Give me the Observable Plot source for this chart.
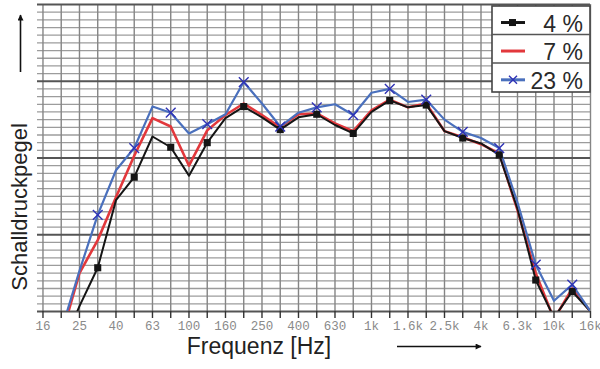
<!DOCTYPE html>
<html><head><meta charset="utf-8">
<script src="https://cdn.jsdelivr.net/npm/d3@7"></script>
<script src="https://cdn.jsdelivr.net/npm/@observablehq/plot@0.6"></script>
<style>
body{margin:0;background:#fff}
#chart{width:600px;height:369px}
</style>
</head><body><div id="chart"></div>
<script>
// Third-octave band centre frequencies (x categories)
const bandLabels = ["16","20","25","31.5","40","50","63","80","100","125","160","200","250","315","400","500","630","800","1k","1.25k","1.6k","2k","2.5k","3.15k","4k","5k","6.3k","8k","10k","12.5k","16k"];
// Tick labels shown on the axis (every second band)
const tickLabels = ["16","25","40","63","100","160","250","400","630","1k","1.6k","2.5k","4k","6.3k","10k","16k"];
// Legend / series names
const seriesNames = ["4 %", "7 %", "23 %"];
// Sound pressure level (relative units, one grid step = 1)
const level4  = [null, -5, 0.7, 5.7, 14.5, 17.5, 22.8, 21.4, 17.7, 22.0, 25.2, 26.7, 25.3, 23.7, 25.3, 25.7, 24.3, 23.2, 26.0, 27.5, 26.6, 26.9, 23.5, 22.6, 21.9, 20.4, 13.4, 4.1, -0.8, 2.6, 0];
const level7  = [null, -3.3, 5.0, 9.3, 14.9, 20.3, 25.2, 24.1, 19.0, 23.6, 25.6, 27.1, 25.6, 24.0, 25.7, 25.8, 24.5, 23.5, 26.2, 27.6, 26.6, 27.1, 23.5, 22.7, 21.8, 20.6, 13.2, 5.0, -1.0, 3.0, 0];
const level23 = [null, -2.5, 5.3, 12.6, 18.4, 21.3, 26.7, 25.9, 23.2, 24.4, 25.7, 29.9, 27.1, 24.1, 25.9, 26.6, 27.0, 25.6, 28.5, 29.0, 27.3, 27.6, 25.0, 23.4, 22.6, 21.3, 14.2, 6.1, 1.4, 3.5, 0];
// Axis titles
const xTitle = "Frequenz [Hz]";
const yTitle = "Schalldruckpegel";

const bandIdx = bandLabels.map((_, i) => i);
const labelIdx = bandIdx.filter(i => i % 2 === 0);
const rows = (vals, name) => vals.map((v, i) => ({band: i, value: v, series: name}));
const d4 = rows(level4, seriesNames[0]);
const d7 = rows(level7, seriesNames[1]);
const d23 = rows(level23, seriesNames[2]);
const markerRows = d => d.filter(r => r.band % 2 === 1 && r.value != null && r.value >= 0);

const yAll = d3.range(0, 41);
const yMajor = yAll.filter(v => v % 10 === 0);
const yMinor = yAll.filter(v => v % 10 !== 0);

const C4 = "#151515", C7 = "#e2383c", C23 = "#4a70bd";
const sans = "'Liberation Sans', Arial, sans-serif";

const plot = Plot.plot({
  width: 600, height: 369,
  marginTop: 4, marginBottom: 58, marginLeft: 37, marginRight: 10,
  x: {domain: [-0.3, 30], axis: null},
  y: {domain: [0, 40], axis: null},
  style: {background: "#fff", fontFamily: sans, overflow: "visible"},
  marks: [
    Plot.ruleY(yMinor, {stroke: "#9c9c9c", strokeWidth: 1.3}),
    Plot.ruleX(bandIdx, {stroke: "#858585", strokeWidth: 1.4}),
    Plot.ruleY(yMajor, {stroke: "#555", strokeWidth: 2}),
    Plot.axisX({ticks: bandIdx, tickSize: 7, text: null, stroke: "#333", strokeWidth: 1.4, label: null}),
    Plot.axisX({
      ticks: labelIdx, tickSize: 0, tickPadding: 10,
      tickFormat: i => tickLabels[i / 2],
      fill: "#8a8a8a",
      fontSize: 12.5, fontFamily: "'Liberation Mono', 'DejaVu Sans Mono', monospace",
      label: null
    }),
    Plot.line(d7, {x: "band", y: "value", stroke: C7, strokeWidth: 2.6, clip: true}),
    Plot.line(d4, {x: "band", y: "value", stroke: C4, strokeWidth: 2, clip: true}),
    Plot.line(d23, {x: "band", y: "value", stroke: C23, strokeWidth: 2.2, clip: true}),
    Plot.dot(markerRows(d4), {x: "band", y: "value", symbol: "square", r: 4, fill: C4}),
    Plot.dot(markerRows(d23), {x: "band", y: "value", symbol: "times", r: 4.5, stroke: "#2f32b5", strokeWidth: 1.4}),
    Plot.text([xTitle], {text: d => d, frameAnchor: "bottom", dx: -55, dy: 42, fontSize: 23, fill: "#222", fontFamily: sans})
  ]
});

document.getElementById("chart").appendChild(plot);

// Decorations: y title, arrows and legend
const svg = d3.select(plot);
svg.append("text").attr("transform", "translate(19,207) rotate(-90)")
  .attr("text-anchor", "middle").attr("dy", "0.35em")
  .attr("font-family", sans).attr("font-size", 22).attr("fill", "#222").text(yTitle);

const defs = svg.append("defs");
defs.append("marker").attr("id", "ah").attr("viewBox", "0 0 10 10").attr("refX", 9).attr("refY", 5)
  .attr("markerWidth", 7).attr("markerHeight", 6).attr("markerUnits", "userSpaceOnUse").attr("orient", "auto")
  .append("path").attr("d", "M0,0 L10,5 L0,10 Z").attr("fill", "#111");
svg.append("line").attr("x1", 20.5).attr("y1", 72).attr("x2", 20.5).attr("y2", 15)
  .attr("stroke", "#111").attr("stroke-width", 1.6).attr("marker-end", "url(#ah)");
svg.append("line").attr("x1", 397).attr("y1", 346.5).attr("x2", 481).attr("y2", 346.5)
  .attr("stroke", "#111").attr("stroke-width", 1.6).attr("marker-end", "url(#ah)");

const lg = svg.append("g");
const rowsY = [6, 34.5, 63, 92];
lg.append("rect").attr("x", 492).attr("y", 6).attr("width", 98).attr("height", 86)
  .attr("fill", "#fff").attr("stroke", "#444").attr("stroke-width", 1.6);
[34.5, 63].forEach(y => lg.append("line").attr("x1", 492).attr("x2", 590).attr("y1", y).attr("y2", y)
  .attr("stroke", "#555").attr("stroke-width", 1.4));
const colors = [C4, C7, C23];
seriesNames.forEach((name, i) => {
  const top = rowsY[i], bot = rowsY[i + 1];
  const ly = top + (bot - top) * 0.58;
  lg.append("line").attr("x1", 501).attr("x2", 525).attr("y1", ly).attr("y2", ly)
    .attr("stroke", colors[i]).attr("stroke-width", 3);
  if (i === 0) lg.append("rect").attr("x", 509).attr("y", ly - 3.5).attr("width", 7).attr("height", 7).attr("fill", C4);
  if (i === 2) lg.append("path").attr("d", `M${509},${ly - 4}L${517},${ly + 4}M${509},${ly + 4}L${517},${ly - 4}`)
    .attr("stroke", "#2f32b5").attr("stroke-width", 1.4);
  lg.append("text").attr("x", 583).attr("y", bot - 3).attr("text-anchor", "end")
    .attr("font-family", sans).attr("font-size", 23).attr("fill", "#2a2a2a").text(name);
});
</script>
</body></html>
